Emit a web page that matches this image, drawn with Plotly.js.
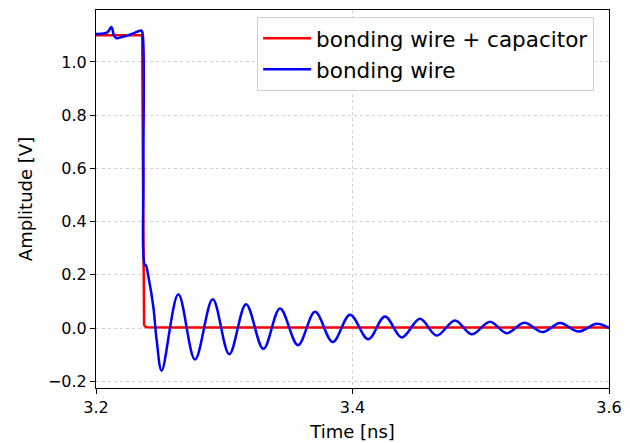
<!DOCTYPE html>
<html>
<head>
<meta charset="utf-8">
<script src="https://cdn.plot.ly/plotly-3.0.1.min.js"></script>
<style>html,body{margin:0;padding:0;background:#fff;}#chart{width:630px;height:443px;}</style>
</head>
<body>
<div id="chart"></div>
<script>
// Series names
const seriesNames = ["bonding wire + capacitor", "bonding wire"];

// bonding wire + capacitor (red)
const capTime = [3.2000, 3.2360, 3.2366, 3.2369, 3.2375, 3.2385, 3.2400, 3.2600, 3.6000];
const capAmp  = [1.100, 1.100, 0.600, 0.050, 0.012, 0.005, 0.003, 0.002, 0.002];

// bonding wire (blue)
const wireTime = [3.2000, 3.2070, 3.2092, 3.2120, 3.2140, 3.2160, 3.2200, 3.2280, 3.2330, 3.2352,
                  3.2362, 3.2370, 3.2378, 3.2390, 3.2410, 3.2447, 3.2473, 3.2512,
                  3.2642, 3.2772, 3.2910, 3.3039, 3.3170, 3.3305, 3.3435, 3.3575,
                  3.3708, 3.3846, 3.3981, 3.4123, 3.4253, 3.4384, 3.4526, 3.4657,
                  3.4799, 3.4929, 3.5072, 3.5202, 3.5339, 3.5483, 3.5618, 3.5761,
                  3.5904, 3.6000];
const wireAmp  = [1.105, 1.108, 1.112, 1.131, 1.100, 1.089, 1.093, 1.105, 1.115, 1.118,
                  1.110, 0.600, 0.240, 0.235, 0.190, 0.080, -0.045, -0.160,
                  0.127, -0.118, 0.108, -0.098, 0.090, -0.078, 0.074, -0.064,
                  0.061, -0.052, 0.050, -0.042, 0.044, -0.035, 0.035, -0.028,
                  0.029, -0.023, 0.024, -0.019, 0.020, -0.015, 0.019, -0.013,
                  0.016, 0.000];

// Axis ticks
const xTicks = [3.2, 3.4, 3.6];
const xTickText = ["3.2", "3.4", "3.6"];
const yTicks = [-0.2, 0.0, 0.2, 0.4, 0.6, 0.8, 1.0];

const traces = [
  {x: capTime, y: capAmp, name: seriesNames[0], mode: "lines", type: "scatter",
   line: {color: "#ff0000", width: 2.5}},
  {x: wireTime, y: wireAmp, name: seriesNames[1], mode: "lines", type: "scatter",
   line: {color: "#0000ff", width: 2.5, shape: "spline", smoothing: 1}}
];

const axisCommon = {
  showline: true, linecolor: "#000", linewidth: 1, mirror: true,
  ticks: "outside", ticklen: 5, tickcolor: "#000", tickwidth: 1,
  showgrid: true, gridcolor: "#c4c4c4", gridwidth: 0.8, griddash: "dot",
  zeroline: false,
  tickfont: {family: "DejaVu Sans", size: 16, color: "#000"}
};

const layout = {
  width: 630, height: 443,
  margin: {l: 96, r: 21, t: 10, b: 55},
  paper_bgcolor: "#fff", plot_bgcolor: "#fff",
  font: {family: "DejaVu Sans", color: "#000"},
  showlegend: true,
  legend: {x: 0.971, y: 0.982, xanchor: "right", yanchor: "top",
           bgcolor: "rgba(255,255,255,0.9)", bordercolor: "#d0d0d0", borderwidth: 1,
           itemwidth: 48,
           font: {family: "DejaVu Sans", size: 21.5, color: "#000"}},
  xaxis: Object.assign({}, axisCommon, {
    range: [3.2, 3.6], tickvals: xTicks, ticktext: xTickText,
    title: {text: "Time [ns]", font: {family: "DejaVu Sans", size: 18}, standoff: 9}
  }),
  yaxis: Object.assign({}, axisCommon, {
    range: [-0.225, 1.195], tickvals: yTicks, tickformat: ".1f",
    title: {text: "Amplitude [V]", font: {family: "DejaVu Sans", size: 18}, standoff: 10}
  })
};

Plotly.newPlot("chart", traces, layout, {displayModeBar: false, staticPlot: true});
</script>
</body>
</html>
